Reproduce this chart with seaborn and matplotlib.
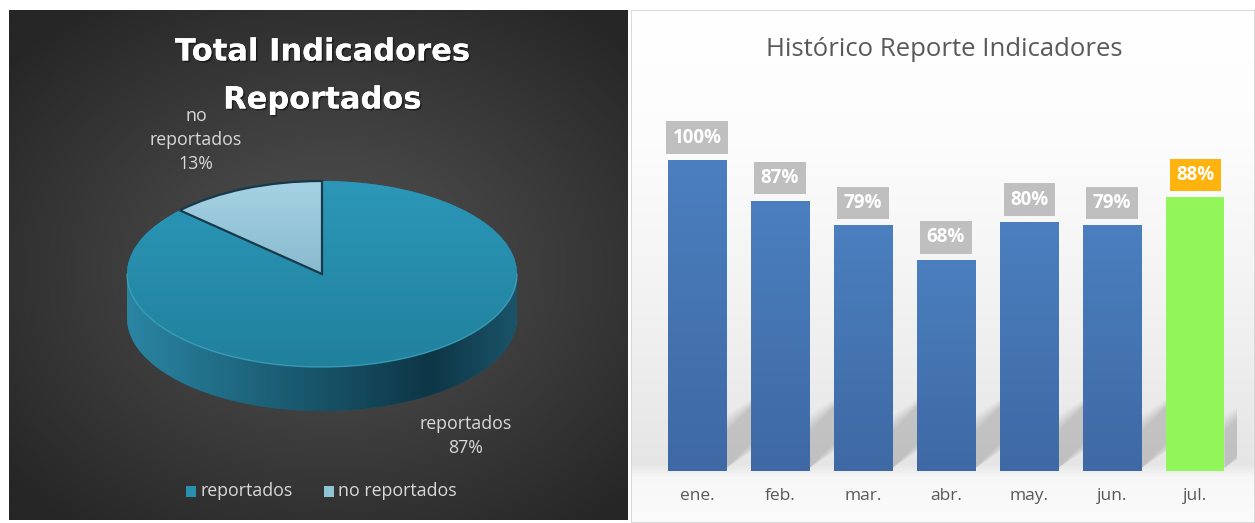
import matplotlib

matplotlib.use("Agg")

import matplotlib.pyplot as plt
import matplotlib.patheffects as pe
import numpy as np
import pandas as pd
import seaborn as sns
from matplotlib.colors import to_rgb
from matplotlib.path import Path
from matplotlib.patches import PathPatch


PIE_LABELS = ["reportados", "no reportados"]
PIE_SHARES = [87, 13]
MONTHS = ["ene.", "feb.", "mar.", "abr.", "may.", "jun.", "jul."]
REPORT_PCT = [100, 87, 79, 68, 80, 79, 88]

W, H = 1255, 523
FONT = ["Open Sans", "DejaVu Sans"]


def fx(x):
    return x / W


def fy(y):
    return 1 - y / H


def rect(x0, y0, x1, y1):
    # pixel box (top-left origin) -> figure fraction rect
    return [fx(x0), fy(y1), (x1 - x0) / W, (y1 - y0) / H]


def lerp_colors(c0, c1, t):
    c0, c1 = np.array(to_rgb(c0)), np.array(to_rgb(c1))
    t = np.clip(t, 0, 1)[..., None]
    return c0 * (1 - t) + c1 * t


def gradient_in(ax, img, extent, clip, zorder):
    im = ax.imshow(img, extent=extent, origin="upper", aspect="auto",
                   zorder=zorder, interpolation="bilinear")
    im.set_clip_path(clip)
    return im


def vertical(c_top, c_bottom, n=200):
    t = np.linspace(0, 1, n)[:, None] * np.ones((1, 4))
    return lerp_colors(c_top, c_bottom, t)


def draw_pie_panel(fig):
    x0, y0, x1, y1 = 9, 10, 628, 520
    ax = fig.add_axes(rect(x0, y0, x1, y1))

    # pie geometry in pixels: centre, half axes, thickness
    cx, cy, a, b, depth_px = 322, 274, 195, 93, 44
    xlim = (-(cx - x0) / a, (x1 - cx) / a)
    ylim = (-(y1 - cy) / b, (cy - y0) / b)
    depth = depth_px / b

    # radial dark background
    gx, gy = np.meshgrid(np.linspace(x0, x1, 300), np.linspace(y0, y1, 300))
    r = np.hypot((gx - 330) / 420, (gy - 270) / 330)
    bg = lerp_colors("#545454", "#262626", r)
    ax.imshow(bg, extent=(*xlim, *ylim), origin="upper", aspect="auto", zorder=0)

    side = "#1c6179"
    for dz in np.linspace(depth, 0, 40):
        ax.pie(PIE_SHARES, center=(0, -dz), colors=[side, side], startangle=90,
               counterclock=False, radius=1, wedgeprops={"linewidth": 0})

    # shading on the side band
    t = np.linspace(np.pi, 2 * np.pi, 120)
    band = np.vstack([np.c_[np.cos(t), np.sin(t)],
                      np.c_[np.cos(t[::-1]), np.sin(t[::-1]) - depth]])
    band_patch = PathPatch(Path(band, closed=True), transform=ax.transData,
                           facecolor="none", edgecolor="none")
    ax.add_patch(band_patch)
    sx = np.linspace(0, 1, 200)
    side_cols = np.where(sx[:, None] < 0.78,
                         lerp_colors("#2a85a3", "#0d3646", sx / 0.78),
                         lerp_colors("#0d3646", "#1b5469", (sx - 0.78) / 0.22))
    side_img = np.repeat(side_cols[None, :, :], 10, axis=0)
    gradient_in(ax, side_img, (-1, 1, -1 - depth, 0), band_patch, 3)

    wedges, _ = ax.pie(PIE_SHARES, colors=["#26869f", "#8fc3d6"], startangle=90,
                       counterclock=False, radius=1,
                       wedgeprops={"linewidth": 0})
    for w in wedges:
        w.set_zorder(4)

    # top face gradients
    gradient_in(ax, vertical("#2c97b8", "#20819d"), (-1, 1, -1, 1), wedges[0], 5)
    gradient_in(ax, vertical("#a6d3e3", "#6b9fb8"), (-1, 1, -1, 1), wedges[1], 5)
    wedges[1].set_edgecolor("#17394a")
    wedges[1].set_linewidth(1.6)
    wedges[1].set_facecolor("none")
    wedges[1].set_zorder(6)

    # highlight rim on front edge
    ax.plot(np.cos(t), np.sin(t), color="#45a9c6", lw=1.0, alpha=0.7, zorder=6)

    ax.set_xlim(*xlim)
    ax.set_ylim(*ylim)
    ax.set_aspect("auto")
    ax.axis("off")

    # title, two lines with a soft drop shadow
    glow = [pe.withSimplePatchShadow(offset=(1.2, -1.2), shadow_rgbFace="#000000",
                                     alpha=0.45),
            pe.Normal()]
    for text, y in [("Total Indicadores", 52), ("Reportados", 100)]:
        fig.text(fx(322), fy(y), text, color="white", fontsize=22,
                 fontweight="bold", ha="center", va="center",
                 family=["DejaVu Sans"], path_effects=glow)

    lab_kw = dict(color="#d9d9d9", fontsize=12.8, ha="center", va="center",
                  family=FONT, linespacing=1.45)
    fig.text(fx(196), fy(140), f"no\nreportados\n{PIE_SHARES[1]}%", **lab_kw)
    fig.text(fx(466), fy(436), f"{PIE_LABELS[0]}\n{PIE_SHARES[0]}%", **lab_kw)

    # legend
    for (mx, tx), label, col in zip([(191, 200), (329, 338)], PIE_LABELS,
                                    ["#2a90b0", "#8fc3d6"]):
        fig.patches.append(plt.Rectangle((fx(mx - 5), fy(497)), 10 / W, 11 / H,
                                         transform=fig.transFigure,
                                         facecolor=col, edgecolor="none"))
        fig.text(fx(tx), fy(491), label, color="#d9d9d9", fontsize=12.8,
                 ha="left", va="center", family=FONT)


def draw_bar_panel(fig):
    bg_ax = fig.add_axes(rect(631, 10, 1255, 523))
    yy = np.linspace(10, 523, 400)
    shade = np.interp(yy, [10, 140, 300, 465, 478, 523],
                      [1.0, 0.99, 0.95, 0.9, 0.97, 0.985])
    bg = np.repeat(shade[:, None, None], 3, axis=2) * np.ones((1, 4, 3))
    bg_ax.imshow(bg, extent=(0, 1, 0, 1), aspect="auto", origin="upper")
    bg_ax.set_xlim(0, 1)
    bg_ax.set_ylim(0, 1)
    bg_ax.axis("off")
    bg_ax.add_patch(plt.Rectangle((0, 0), 1, 1, fill=False, edgecolor="#d4d4d4",
                                  lw=1.2, transform=bg_ax.transAxes))

    df = pd.DataFrame({"mes": MONTHS, "pct": REPORT_PCT})
    colors = ["#4677b6"] * (len(MONTHS) - 1) + ["#92f65a"]
    box_colors = ["#bfbfbf"] * (len(MONTHS) - 1) + ["#ffb30f"]

    ax = fig.add_axes(rect(655.5, 98, 1236.5, 471))
    sns.barplot(data=df, x="mes", y="pct", hue="mes", palette=colors,
                legend=False, width=0.71, saturation=1, linewidth=0, ax=ax)
    ax.set_xlim(-0.5, len(MONTHS) - 0.5)
    ax.set_ylim(0, 120)
    ax.patch.set_alpha(0)
    for s in ax.spines.values():
        s.set_visible(False)
    ax.set_yticks([])
    ax.set_xlabel("")
    ax.set_ylabel("")
    ax.tick_params(axis="x", length=0, pad=12, labelsize=12.5, labelcolor="#595959")
    for lab in ax.get_xticklabels():
        lab.set_family(FONT)

    # px -> data units for the floor shadows
    ux = 1 / 83.0
    uy = 120 / 373.0
    for bar, col in zip(ax.patches, colors):
        xr = bar.get_x() + bar.get_width()
        bar.set_zorder(3)
        if col != colors[-1]:
            gradient_in(ax, vertical("#4b7fbf", "#3e69a4"),
                        (bar.get_x(), xr, 0, bar.get_height()), bar, 3.5)
        # soft diagonal shadow cast to the right on the floor
        for k in range(6):
            grow = (5 - k) * 3
            lo = 3 * uy
            hi = (40 + grow) * uy
            run = (30 + grow) * ux
            ax.fill([xr, xr + run, xr + run, xr],
                    [lo, lo + 30 * uy, hi + 30 * uy, hi],
                    color="#000000", alpha=0.028, lw=0, zorder=2)

    for i, (v, bc) in enumerate(zip(REPORT_PCT, box_colors)):
        ax.annotate(f"{v}%", (i, v), xytext=(0, 9), textcoords="offset points",
                    ha="center", va="bottom", color="white", fontsize=13.5,
                    fontweight="bold", family=FONT,
                    bbox=dict(boxstyle="square,pad=0.34", facecolor=bc,
                              edgecolor="none"), zorder=5)

    fig.text(fx(944), fy(50), "Histórico Reporte Indicadores", color="#595959",
             fontsize=18.5, ha="center", va="center", family=FONT)


def main():
    sns.set_theme(style="white")
    plt.rcParams["font.family"] = FONT
    fig = plt.figure(figsize=(W / 100, H / 100), dpi=100)
    fig.patch.set_facecolor("white")
    draw_pie_panel(fig)
    draw_bar_panel(fig)
    fig.savefig("out.png", dpi=100)
    plt.close(fig)


if __name__ == "__main__":
    main()
